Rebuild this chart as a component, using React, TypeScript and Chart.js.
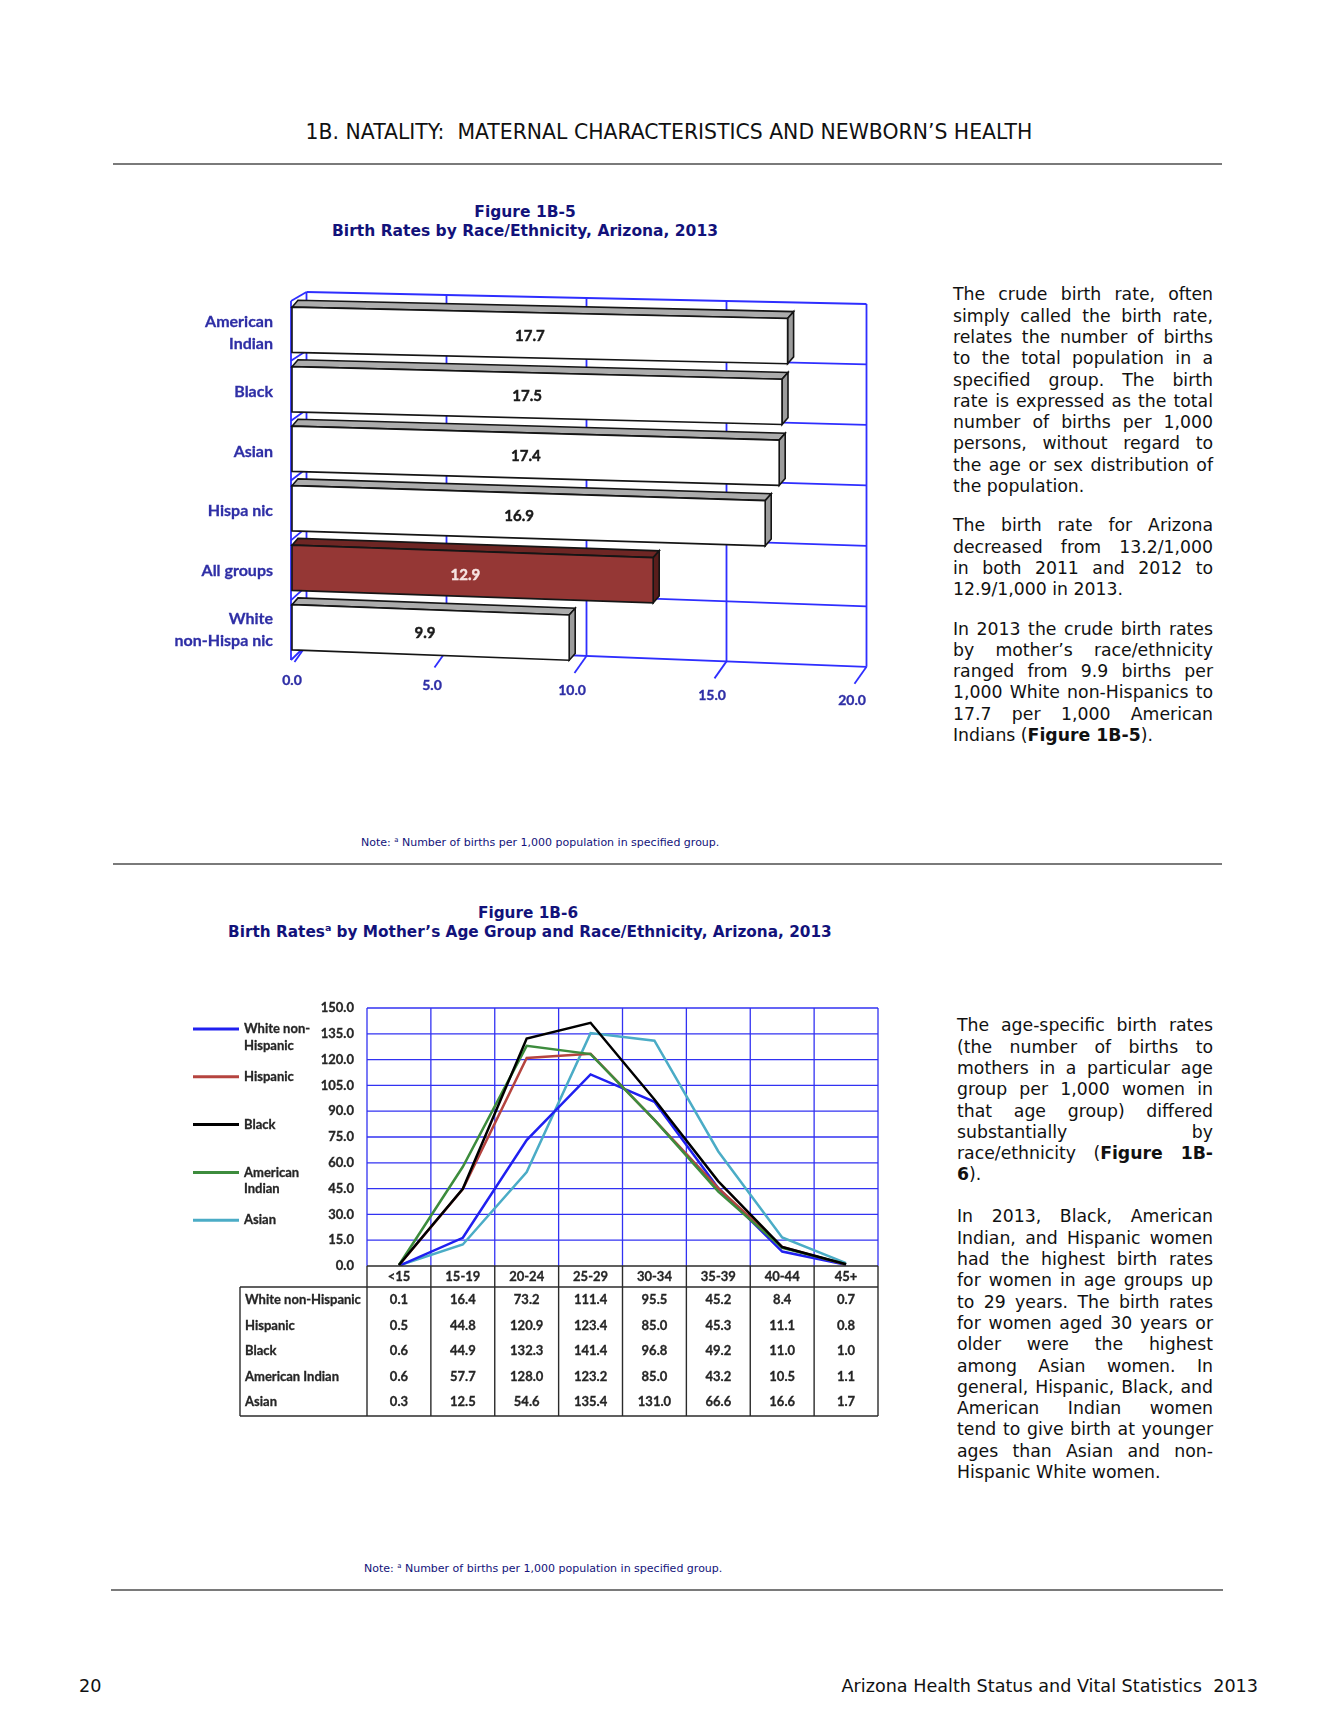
import React, { useEffect, useRef } from "react";
import { Chart, registerables } from "chart.js";
Chart.register(...registerables);

// ---------- Figure 1B-5 data ----------
const barCategories: (string | string[])[] = [
  ["American", "Indian"],
  "Black",
  "Asian",
  "Hispa nic",
  "All groups",
  ["White", "non-Hispa nic"],
];
const barValues = [17.7, 17.5, 17.4, 16.9, 12.9, 9.9];
const highlightCategory = "All groups";
const barTicks = [0, 5, 10, 15, 20];

// ---------- Figure 1B-6 data ----------
const ageGroups = ["<15", "15-19", "20-24", "25-29", "30-34", "35-39", "40-44", "45+"];
const seriesNames = ["White non-Hispanic", "Hispanic", "Black", "American Indian", "Asian"];
const legendLines = [["White non-", "Hispanic"], ["Hispanic"], ["Black"], ["American", "Indian"], ["Asian"]];
const whiteNonHispanic = [0.1, 16.4, 73.2, 111.4, 95.5, 45.2, 8.4, 0.7];
const hispanic = [0.5, 44.8, 120.9, 123.4, 85.0, 45.3, 11.1, 0.8];
const black = [0.6, 44.9, 132.3, 141.4, 96.8, 49.2, 11.0, 1.0];
const americanIndian = [0.6, 57.7, 128.0, 123.2, 85.0, 43.2, 10.5, 1.1];
const asian = [0.3, 12.5, 54.6, 135.4, 131.0, 66.6, 16.6, 1.7];
const lineTicks = [0, 15, 30, 45, 60, 75, 90, 105, 120, 135, 150];

const seriesColors = ["#2020f0", "#b5443f", "#000000", "#3d8c3d", "#4bacc6"];
const seriesOrder = [3, 2, 0, 1, 4];

const CH1_LABEL = "#2f2fa6";
const CH1_GRID = "#2e2eff";
const kTop = 0.0214;
const kBot = 0.039;

// heavier text (Calibri-bold look)
const heavyText = (ctx: CanvasRenderingContext2D, s: string, x: number, y: number, w = 0.3) => {
  ctx.fillText(s, x, y);
  ctx.lineWidth = w;
  ctx.strokeStyle = ctx.fillStyle as string;
  ctx.strokeText(s, x, y);
};

const wallPlugin = {
  id: "wall3d",
  beforeDatasetsDraw(chart: any) {
    const { ctx, chartArea: ca, scales } = chart;
    const xs = scales.x;
    const n = barValues.length;
    const back = (v: number) => xs.getPixelForValue(v) + 14.5;
    const bx0 = back(barTicks[0]);
    const bxN = back(barTicks[barTicks.length - 1]);
    const topL = ca.top - 8;
    const botL = ca.bottom - 12;
    const lineY = (i: number, x: number) => {
      const f = i / n;
      const yl = topL + f * (botL - topL);
      const k = kTop + f * (kBot - kTop);
      return yl + k * (x - bx0);
    };
    ctx.save();
    ctx.strokeStyle = CH1_GRID;
    ctx.lineWidth = 1.8;
    const seg = (a: number, b: number, c: number, d: number) => {
      ctx.beginPath();
      ctx.moveTo(a, b);
      ctx.lineTo(c, d);
      ctx.stroke();
    };
    for (let i = 0; i <= n; i++) seg(bx0, lineY(i, bx0), bxN, lineY(i, bxN));
    for (const v of barTicks) {
      const bx = back(v);
      seg(bx, lineY(0, bx), bx, lineY(n, bx));
      seg(bx, lineY(n, bx), bx - 12, lineY(n, bx) + 17);
    }
    const fx = ca.left - 1;
    seg(fx, lineY(0, bx0) + 9, fx, lineY(n, bx0) + 15);
    for (let i = 0; i <= n; i++) {
      const yb = lineY(i, bx0);
      seg(bx0, yb, fx, yb + 9 + i);
    }
    ctx.restore();
  },
  afterDatasetsDraw(chart: any) {
    const { ctx, chartArea: ca, scales } = chart;
    const xs = scales.x;
    const L = ca.left;
    const n = barValues.length;
    const meta = chart.getDatasetMeta(0);
    const labels = chart.data.labels;
    ctx.save();
    meta.data.forEach((el: any, i: number) => {
      const { x, y, base, height } = el.getProps(["x", "y", "base", "height"], true);
      const f = (i + 0.5) / n;
      const k = kTop + f * (kBot - kTop);
      const P = (px: number, py: number): [number, number] => [px, py + k * (px - L)];
      const t = y - height / 2;
      const b = y + height / 2;
      const dx = 6;
      const dy = 7;
      const lab = labels[i];
      const hi = (Array.isArray(lab) ? lab.join(" ") : lab) === highlightCategory;
      const poly = (pts: [number, number][], fill: string) => {
        ctx.beginPath();
        pts.forEach((p, j) => (j ? ctx.lineTo(p[0], p[1]) : ctx.moveTo(p[0], p[1])));
        ctx.closePath();
        ctx.fillStyle = fill;
        ctx.fill();
        ctx.strokeStyle = "#151515";
        ctx.lineWidth = 1.6;
        ctx.stroke();
      };
      poly([P(base, t), P(x, t), P(x + dx, t - dy), P(base + dx, t - dy)], hi ? "#6e2624" : "#acacac");
      poly([P(x, t), P(x + dx, t - dy), P(x + dx, b - dy), P(x, b)], hi ? "#5a1d1b" : "#9c9c9c");
      poly([P(base, t), P(x, t), P(x, b), P(base, b)], hi ? "#953735" : "#ffffff");
      // value label
      const lx = base + (x - base) * 0.48;
      const ly = y + k * (lx - L) + 1;
      ctx.fillStyle = hi ? "#f7e3e2" : "#1a1a1a";
      ctx.font = "bold 15px Lato";
      ctx.textAlign = "center";
      ctx.textBaseline = "middle";
      heavyText(ctx, barValues[i].toFixed(1), lx, ly, 0.45);
      // category label
      ctx.fillStyle = CH1_LABEL;
      ctx.font = "bold 16px Lato";
      ctx.textAlign = "right";
      const lines = Array.isArray(lab) ? lab : [lab];
      lines.forEach((s: string, j: number) => {
        heavyText(ctx, s, L - 19, y + 3 + (j - (lines.length - 1) / 2) * 22, 0.3);
      });
    });
    ctx.fillStyle = CH1_LABEL;
    ctx.font = "bold 14px Lato";
    ctx.textAlign = "center";
    ctx.textBaseline = "middle";
    for (const v of barTicks) {
      const px = xs.getPixelForValue(v);
      heavyText(ctx, v.toFixed(1), px, ca.bottom + 23 + (px - L) * 0.0357, 0.35);
    }
    ctx.restore();
  },
};

const tablePlugin = {
  id: "gridTable",
  beforeDatasetsDraw(chart: any) {
    const { ctx, chartArea: ca, scales } = chart;
    const { x, y } = scales;
    const half = (x.getPixelForValue(1) - x.getPixelForValue(0)) / 2;
    ctx.save();
    ctx.strokeStyle = "#3232f2";
    ctx.lineWidth = 1.3;
    for (const v of lineTicks) {
      if (v === 0) continue;
      const py = y.getPixelForValue(v);
      ctx.beginPath();
      ctx.moveTo(ca.left, py);
      ctx.lineTo(ca.right, py);
      ctx.stroke();
    }
    for (let i = 0; i <= ageGroups.length; i++) {
      const px = x.getPixelForValue(i) - half;
      ctx.beginPath();
      ctx.moveTo(px, ca.top);
      ctx.lineTo(px, ca.bottom);
      ctx.stroke();
    }
    ctx.restore();
  },
  afterDraw(chart: any) {
    const { ctx, chartArea: ca, scales } = chart;
    const { x, y } = scales;
    const half = (x.getPixelForValue(1) - x.getPixelForValue(0)) / 2;
    const y0 = y.getPixelForValue(0);
    const headerLine = y0 + 21;
    const tableBottom = y0 + 150;
    const tableLeft = ca.left - 127;
    const seg = (a: number, b: number, c: number, d: number) => {
      ctx.beginPath();
      ctx.moveTo(a, b);
      ctx.lineTo(c, d);
      ctx.stroke();
    };
    ctx.save();
    ctx.strokeStyle = "#2b2b2b";
    ctx.lineWidth = 1.4;
    seg(ca.left, y0, ca.right, y0);
    seg(tableLeft, headerLine, ca.right, headerLine);
    seg(tableLeft, tableBottom, ca.right, tableBottom);
    seg(tableLeft, headerLine, tableLeft, tableBottom);
    for (let i = 0; i <= ageGroups.length; i++) {
      const px = x.getPixelForValue(i) - half;
      seg(px, y0, px, tableBottom);
    }
    ctx.textBaseline = "middle";
    const txt = "#262626";
    ctx.fillStyle = txt;
    ctx.font = "bold 13px Lato";
    ctx.textAlign = "right";
    for (const v of lineTicks) heavyText(ctx, v.toFixed(1), ca.left - 13, y.getPixelForValue(v));
    ctx.textAlign = "center";
    ageGroups.forEach((g, i) => heavyText(ctx, g, x.getPixelForValue(i), y0 + 10.5));
    chart.data.datasets.forEach((ds: any, r: number) => {
      const ry = y0 + 34 + r * 25.5;
      ctx.textAlign = "left";
      heavyText(ctx, ds.label, tableLeft + 5, ry);
      ctx.textAlign = "center";
      ds.data.forEach((v: number, i: number) => heavyText(ctx, v.toFixed(1), x.getPixelForValue(i), ry));
    });
    chart.data.datasets.forEach((ds: any, r: number) => {
      const ly = ca.top + 21 + r * 47.8;
      ctx.strokeStyle = ds.borderColor;
      ctx.lineWidth = 3;
      seg(13, ly, 59, ly);
      ctx.textAlign = "left";
      ctx.fillStyle = txt;
      legendLines[r].forEach((s, j) => heavyText(ctx, s, 64, ly + j * 16.5));
    });
    ctx.restore();
  },
};

const J = ({ children, last }: { children: React.ReactNode; last?: boolean }) => (
  <div style={{ textAlign: "justify", textAlignLast: last ? "left" : "justify", whiteSpace: "nowrap" } as any}>
    {children}
  </div>
);

const Sup = () => (
  <span style={{ fontSize: "0.62em", position: "relative", top: "-0.55em" }}>a</span>
);

export default function App() {
  const c1 = useRef<HTMLCanvasElement>(null);
  const c2 = useRef<HTMLCanvasElement>(null);

  useEffect(() => {
    const ch1 = new Chart(c1.current as HTMLCanvasElement, {
      type: "bar",
      data: {
        labels: barCategories as any,
        datasets: [
          {
            data: barValues,
            backgroundColor: "rgba(0,0,0,0)",
            borderWidth: 0,
            barPercentage: 0.76,
            categoryPercentage: 1,
          },
        ],
      },
      options: {
        indexAxis: "y",
        responsive: false,
        animation: false,
        events: [],
        layout: { padding: { left: 142, right: 48, top: 30, bottom: 63 } },
        plugins: { legend: { display: false }, tooltip: { enabled: false } },
        scales: {
          x: { type: "linear", min: 0, max: 20, display: false },
          y: { type: "category", display: false, offset: true },
        },
      },
      plugins: [wallPlugin],
    } as any);

    const series = [whiteNonHispanic, hispanic, black, americanIndian, asian];
    const ch2 = new Chart(c2.current as HTMLCanvasElement, {
      type: "line",
      data: {
        labels: ageGroups,
        datasets: series.map((d, i) => ({
          label: seriesNames[i],
          data: d,
          borderColor: seriesColors[i],
          backgroundColor: seriesColors[i],
          borderWidth: 2.5,
          pointRadius: 0,
          tension: 0,
          fill: false,
          order: seriesOrder[i],
        })),
      },
      options: {
        responsive: false,
        animation: false,
        events: [],
        layout: { padding: { left: 187, right: 22, top: 18, bottom: 164 } },
        plugins: { legend: { display: false }, tooltip: { enabled: false } },
        scales: {
          x: { type: "category", offset: true, display: false },
          y: { type: "linear", min: 0, max: 150, display: false },
        },
      },
      plugins: [tablePlugin],
    } as any);

    return () => {
      ch1.destroy();
      ch2.destroy();
    };
  }, []);

  const verdana = '"DejaVu Sans", Verdana, sans-serif';
  const navy = "#12127a";
  const abs = (l: number, t: number, extra: React.CSSProperties = {}): React.CSSProperties => ({
    position: "absolute",
    left: l,
    top: t,
    ...extra,
  });

  return (
    <div
      style={{
        position: "absolute",
        left: 0,
        top: 0,
        width: 1338,
        height: 1731,
        background: "#ffffff",
        fontFamily: verdana,
        color: "#111",
      }}
    >
      <div style={abs(0, 119, { width: 1338, textAlign: "center", fontSize: 20.4, lineHeight: "26px", whiteSpace: "pre" })}>
        {"1B. NATALITY:  MATERNAL CHARACTERISTICS AND NEWBORN’S HEALTH"}
      </div>
      <div style={abs(113, 163, { width: 1109, height: 2, background: "#7a7a7a" })} />

      <div style={abs(225, 203, { width: 600, textAlign: "center", fontSize: 15.5, lineHeight: "19px", fontWeight: "bold", color: navy })}>
        <div>Figure 1B-5</div>
        <div>Birth Rates by Race/Ethnicity, Arizona, 2013</div>
      </div>

      <canvas ref={c1} width={750} height={450} style={abs(150, 270, { width: 750, height: 450 })} />

      <div style={abs(953, 284.4, { width: 260, fontSize: 17.3, lineHeight: "21.3px", color: "#111" })}>
        <div style={{ marginBottom: 18 }}>
          <J>The crude birth rate, often</J>
          <J>simply called the birth rate,</J>
          <J>relates the number of births</J>
          <J>to the total population in a</J>
          <J>specified group. The birth</J>
          <J>rate is expressed as the total</J>
          <J>number of births per 1,000</J>
          <J>persons, without regard to</J>
          <J>the age or sex distribution of</J>
          <J last>the population.</J>
        </div>
        <div style={{ marginBottom: 18 }}>
          <J>The birth rate for Arizona</J>
          <J>decreased from 13.2/1,000</J>
          <J>in both 2011 and 2012 to</J>
          <J last>12.9/1,000 in 2013.</J>
        </div>
        <div>
          <J>In 2013 the crude birth rates</J>
          <J>by mother’s race/ethnicity</J>
          <J>ranged from 9.9 births per</J>
          <J>1,000 White non-Hispanics to</J>
          <J>17.7 per 1,000 American</J>
          <J last>
            Indians (<b>Figure 1B-5</b>).
          </J>
        </div>
      </div>

      <div style={abs(361, 836, { fontSize: 11, lineHeight: "14px", color: navy, whiteSpace: "nowrap" })}>
        Note: <Sup /> Number of births per 1,000 population in specified group.
      </div>
      <div style={abs(113, 863, { width: 1109, height: 2, background: "#7a7a7a" })} />

      <div style={abs(228, 903.5, { width: 600, textAlign: "center", fontSize: 15.3, lineHeight: "19px", fontWeight: "bold", color: navy })}>
        <div>Figure 1B-6</div>
        <div style={{ whiteSpace: "nowrap" }}>
          Birth Rates<Sup /> by Mother’s Age Group and Race/Ethnicity, Arizona, 2013
        </div>
      </div>

      <canvas ref={c2} width={720} height={440} style={abs(180, 990, { width: 720, height: 440 })} />

      <div style={abs(957, 1015.4, { width: 256, fontSize: 17.3, lineHeight: "21.3px", color: "#111" })}>
        <div style={{ marginBottom: 20.7 }}>
          <J>The age-specific birth rates</J>
          <J>(the number of births to</J>
          <J>mothers in a particular age</J>
          <J>group per 1,000 women in</J>
          <J>that age group) differed</J>
          <J>substantially by</J>
          <J>
            race/ethnicity (<b>Figure 1B-</b>
          </J>
          <J last>
            <b>6</b>).
          </J>
        </div>
        <div>
          <J>In 2013, Black, American</J>
          <J>Indian, and Hispanic women</J>
          <J>had the highest birth rates</J>
          <J>for women in age groups up</J>
          <J>to 29 years. The birth rates</J>
          <J>for women aged 30 years or</J>
          <J>older were the highest</J>
          <J>among Asian women. In</J>
          <J>general, Hispanic, Black, and</J>
          <J>American Indian women</J>
          <J>tend to give birth at younger</J>
          <J>ages than Asian and non-</J>
          <J last>Hispanic White women.</J>
        </div>
      </div>

      <div style={abs(364, 1562, { fontSize: 11, lineHeight: "14px", color: navy, whiteSpace: "nowrap" })}>
        Note: <Sup /> Number of births per 1,000 population in specified group.
      </div>
      <div style={abs(111, 1589, { width: 1112, height: 2, background: "#7a7a7a" })} />

      <div style={abs(79, 1674, { fontSize: 17.6, lineHeight: "24px" })}>20</div>
      <div style={abs(758, 1674, { width: 500, textAlign: "right", fontSize: 17.6, lineHeight: "24px", whiteSpace: "pre" })}>
        {"Arizona Health Status and Vital Statistics  2013"}
      </div>
    </div>
  );
}
